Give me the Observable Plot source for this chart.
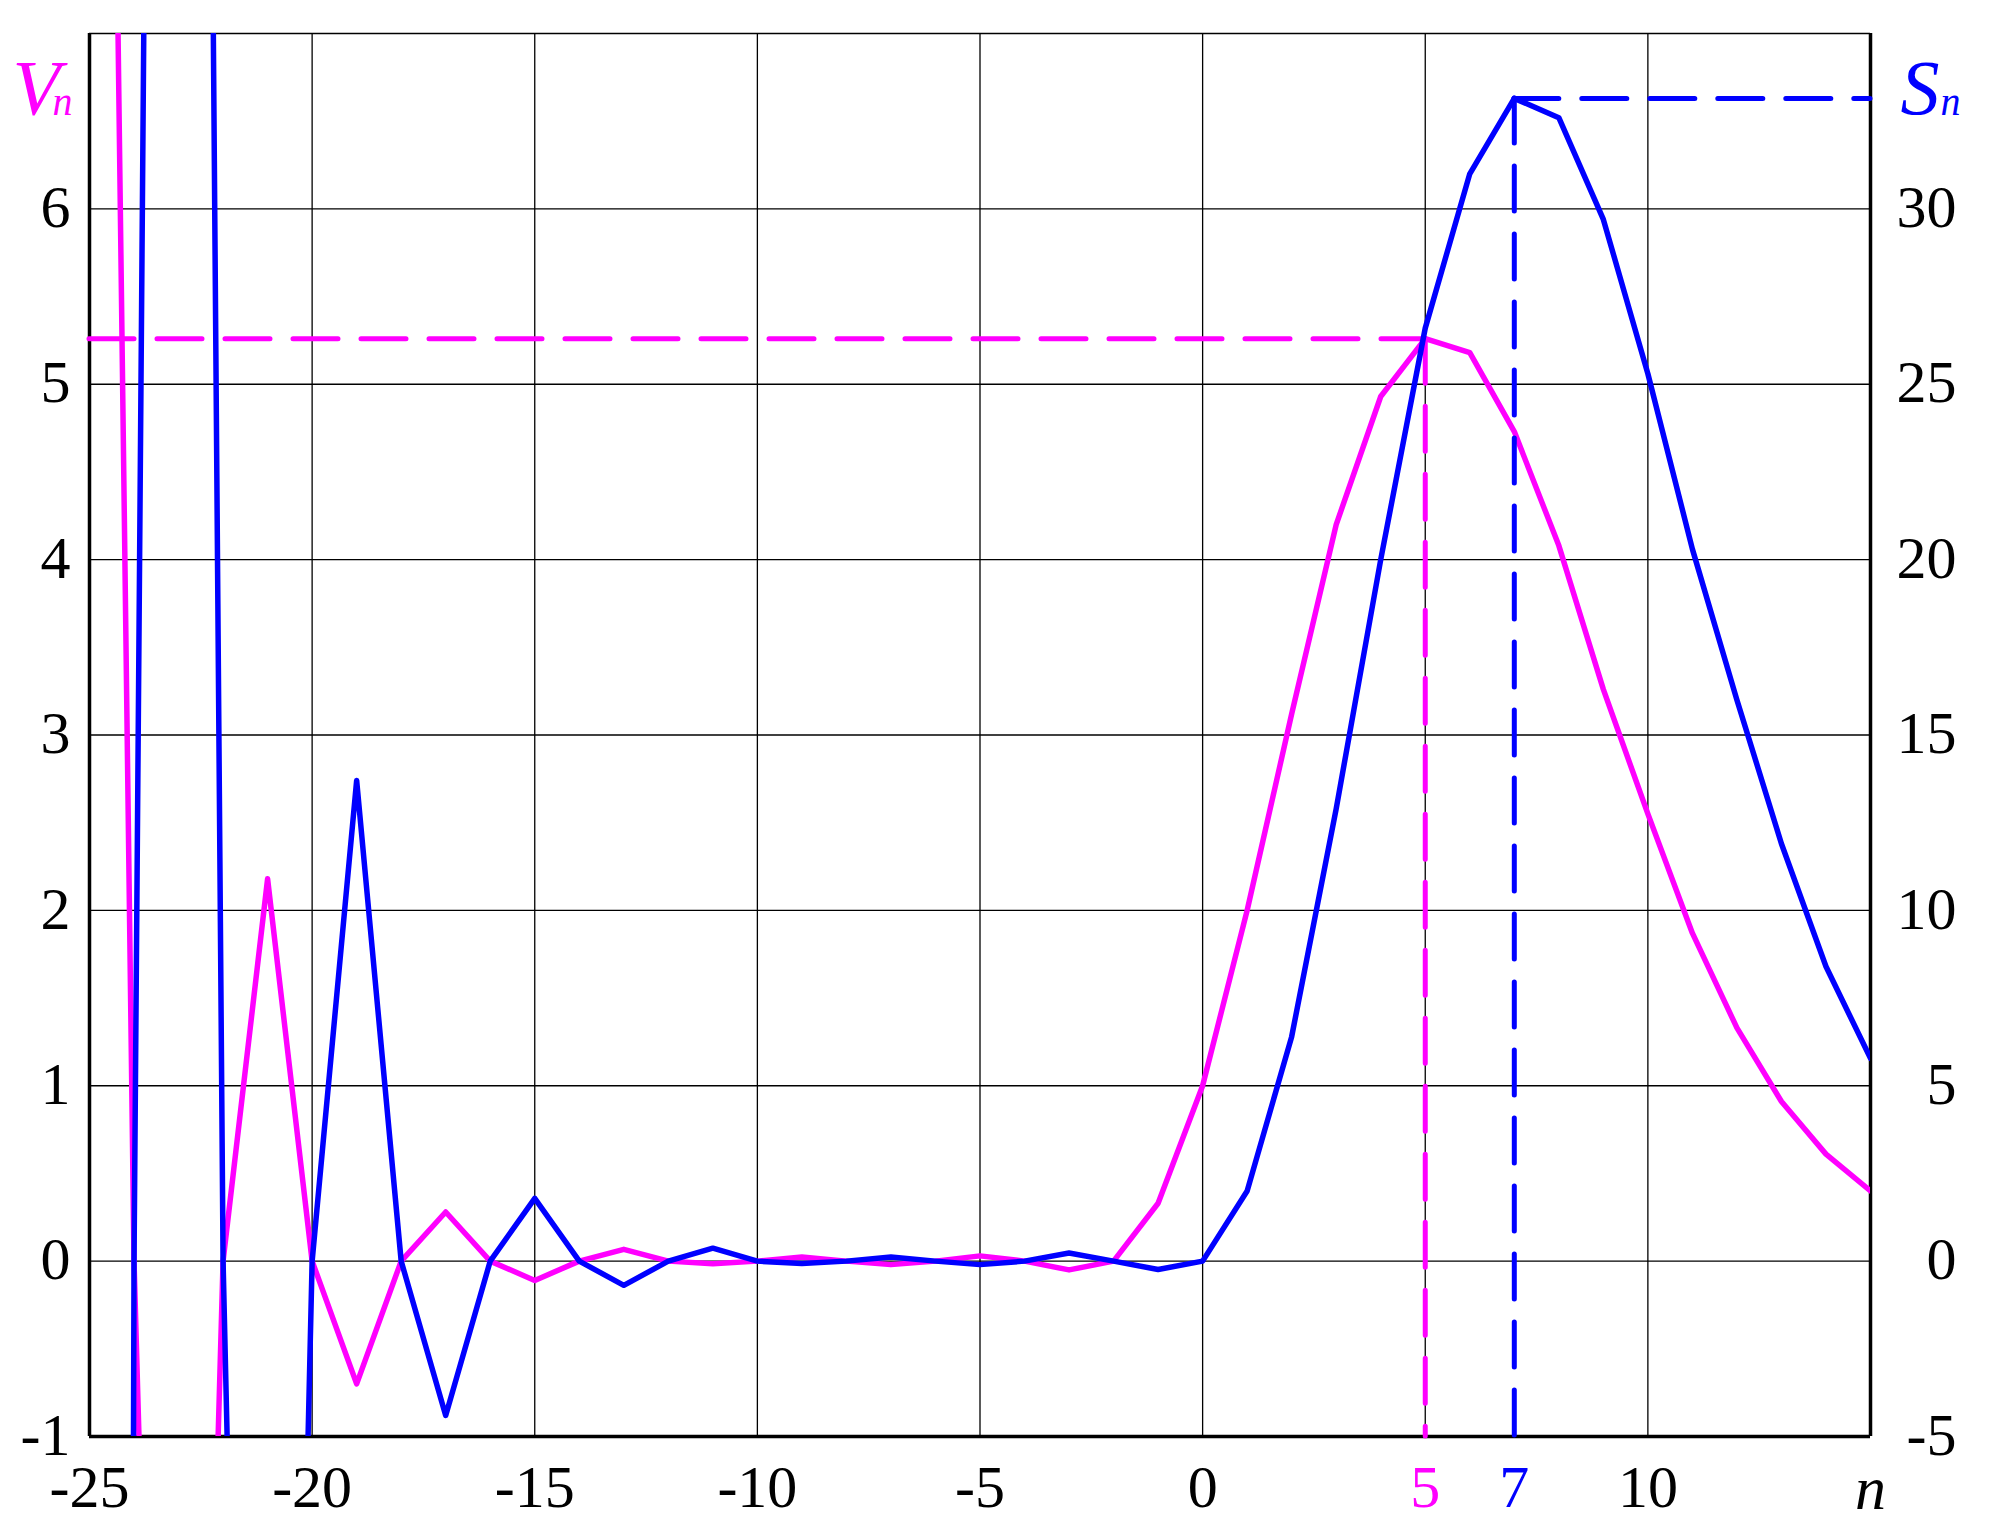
<!DOCTYPE html>
<html><head><meta charset="utf-8">
<script src="https://cdn.jsdelivr.net/npm/d3@7"></script>
<script src="https://cdn.jsdelivr.net/npm/@observablehq/plot@0.6"></script>
<style>
html,body{margin:0;padding:0;background:#fff;}
#wrap{position:relative;width:2001px;height:1528px;background:#fff;}
#wrap svg{position:absolute;left:0;top:0;}
</style></head><body><div id="wrap"></div>
<script>
// ---- data ----
const nValues = [-25,-24,-23,-22,-21,-20,-19,-18,-17,-16,-15,-14,-13,-12,-11,-10,-9,-8,-7,-6,-5,-4,-3,-2,-1,0,1,2,3,4,5,6,7,8,9,10,11,12,13,14,15];
const vValues = [19.5,0,-9,0,2.18,0,-0.70,0,0.28,0,-0.11,0,0.067,0,-0.015,0,0.023,0,-0.02,0,0.03,0,-0.05,0,0.33,
                 1.0,2.0,3.12,4.2,4.93,5.26,5.18,4.73,4.08,3.26,2.55,1.87,1.33,0.91,0.61,0.40];
const sValues = [-420,0,160,0,-55,0,13.7,0,-4.4,0,1.79,0,-0.69,0,0.37,0,-0.07,0,0.12,0,-0.1,0,0.23,0,-0.24,
                 0,2.0,6.4,12.9,20.0,26.6,31.0,33.15,32.6,29.7,25.3,20.3,16.0,11.9,8.4,5.78];
const xDomain = [-25, 15];
const vDomain = [-1, 7];
const sDomain = [-5, 35];
const xTicks = [-25,-20,-15,-10,-5,0,10];
const xGrid = [-20,-15,-10,-5,0,5,10];
const vTicks = [-1,0,1,2,3,4,5,6];
const vGrid = [0,1,2,3,4,5,6];
const sTicks = [-5,0,5,10,15,20,25,30];
const xAxisName = "n";
const vName = ["V","n"];
const sName = ["S","n"];

const MAGENTA = "#ff00ff", BLUE = "#0000ff";
const FONT = "Liberation Serif";
const W = 2001, H = 1528;
const margins = {marginLeft: 89, marginRight: 131, marginTop: 33, marginBottom: 92};

const vData = nValues.map((n, i) => ({n, V: vValues[i]}));
const sData = nValues.map((n, i) => ({n, S: sValues[i]}));
// peaks of the main lobe (n >= 0)
const mainIdx = nValues.map((n, i) => i).filter(i => nValues[i] >= 0);
const iV = mainIdx[d3.maxIndex(mainIdx, i => vValues[i])];
const iS = mainIdx[d3.maxIndex(mainIdx, i => sValues[i])];
const vPeak = vValues[iV], nV = nValues[iV];
const sPeak = sValues[iS], nS = nValues[iS];

const TICK_FS = 60;
const axisCommon = {tickSize: 0, fontSize: TICK_FS, fontFamily: FONT, label: null, tickFormat: d => String(d)};
const dash = {strokeWidth: 5, strokeDasharray: "45,23", strokeLinecap: "round"};

const plotA = Plot.plot({
  width: W, height: H, ...margins,
  style: {background: "transparent", fontFamily: FONT, fontSize: TICK_FS + "px", color: "#000", overflow: "visible"},
  x: {domain: xDomain, axis: null},
  y: {domain: vDomain, axis: null, label: null},
  marks: [
    Plot.ruleX(xGrid, {stroke: "#000", strokeWidth: 1.3}),
    Plot.ruleY(vGrid, {stroke: "#000", strokeWidth: 1.3}),
    Plot.ruleY([vDomain[1]], {stroke: "#000", strokeWidth: 1.5}),
    Plot.ruleY([vDomain[0]], {stroke: "#000", strokeWidth: 3.5}),
    Plot.ruleX([xDomain[0], xDomain[1]], {stroke: "#000", strokeWidth: 3.5}),
    Plot.ruleY([vPeak], {x1: xDomain[0], x2: nV, stroke: MAGENTA, ...dash}),
    Plot.ruleX([nV], {y1: vPeak, y2: vDomain[0], stroke: MAGENTA, ...dash}),
    Plot.line(vData, {x: "n", y: "V", stroke: MAGENTA, strokeWidth: 5.5, strokeLinejoin: "round", clip: true}),
    Plot.axisY(vTicks, {...axisCommon, anchor: "left", tickPadding: 19, dy: -1}),
    Plot.axisX(xTicks, {...axisCommon, anchor: "bottom", tickPadding: 28}),
    Plot.axisX([nV], {...axisCommon, anchor: "bottom", tickPadding: 28, fill: MAGENTA}),
    Plot.axisX([xDomain[1]], {...axisCommon, anchor: "bottom", tickPadding: 28, fontSize: 62, fontStyle: "italic", tickFormat: () => xAxisName}),
    Plot.text([vName[0]], {frameAnchor: "top-left", text: d => d, textAnchor: "start", dx: -77, dy: 25, fontSize: 78, fontStyle: "italic", fontFamily: FONT, fill: MAGENTA}),
    Plot.text([vName[1]], {frameAnchor: "top-left", text: d => d, textAnchor: "start", dx: -37, dy: 53, fontSize: 40, fontStyle: "italic", fontFamily: FONT, fill: MAGENTA})
  ]
});

const plotB = Plot.plot({
  width: W, height: H, ...margins,
  style: {background: "transparent", fontFamily: FONT, fontSize: TICK_FS + "px", color: "#000", overflow: "visible"},
  x: {domain: xDomain, axis: null},
  y: {domain: sDomain, axis: null, label: null},
  marks: [
    Plot.ruleY([sPeak], {x1: nS, x2: xDomain[1], stroke: BLUE, ...dash}),
    Plot.ruleX([nS], {y1: sPeak, y2: sDomain[0], stroke: BLUE, ...dash}),
    Plot.line(sData, {x: "n", y: "S", stroke: BLUE, strokeWidth: 5.5, strokeLinejoin: "round", clip: true}),
    Plot.axisY(sTicks, {...axisCommon, anchor: "right", textAnchor: "end", tickPadding: 86, dy: -1}),
    Plot.axisX([nS], {...axisCommon, anchor: "bottom", tickPadding: 28, fill: BLUE}),
    Plot.text([sName[0]], {frameAnchor: "top-right", text: d => d, textAnchor: "start", dx: 30, dy: 25, fontSize: 78, fontStyle: "italic", fontFamily: FONT, fill: BLUE}),
    Plot.text([sName[1]], {frameAnchor: "top-right", text: d => d, textAnchor: "start", dx: 70, dy: 53, fontSize: 40, fontStyle: "italic", fontFamily: FONT, fill: BLUE})
  ]
});

const wrap = document.getElementById("wrap");
wrap.appendChild(plotA);
wrap.appendChild(plotB);
</script></body></html>
